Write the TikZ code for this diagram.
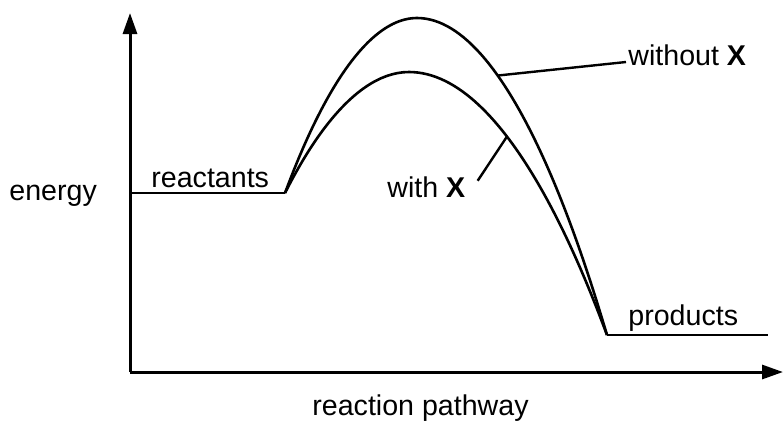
\documentclass[tikz,border=0pt]{standalone}
\usepackage{fontspec}
\setmainfont{Liberation Sans}
\usetikzlibrary{arrows.meta,positioning}

\begin{document}
\begin{tikzpicture}[x=0.5pt,y=-0.5pt,
  axis/.style={line width=1.5pt,-{Triangle[length=10.5pt,width=7pt]}},
  curve/.style={line width=1.3pt,line join=round},
  lead/.style={line width=1.2pt},
  lbl/.style={font=\fontsize{14.3}{16}\selectfont,inner sep=1pt}]
\useasboundingbox (0,0) rectangle (783,420);

% axes
\coordinate (orig) at (130,372);
\coordinate (ytop) at (130,13);
\coordinate (xend) at (783,372);
\draw[axis] (orig) -- (ytop);
\draw[axis] (orig) -- (xend);

% energy levels
\coordinate (rs) at (130,193);
\coordinate (re) at (285,193);
\coordinate (ps) at (607,335);
\coordinate (pe) at (768,335);
\draw[curve] (rs) -- (re);
\draw[curve] (ps) -- (pe);

% the two pathways
\draw[curve] (re) parabola bend (417,18) (ps);
\draw[curve] (re) parabola bend (409,72) (ps);

% labels
\node[lbl,anchor=base west] (en) at (7,200) {energy};
\node[lbl,anchor=base west] (rl) at (149,187) {reactants};
\node[lbl,anchor=base west] (pl) at (626,325) {products};
\node[lbl,anchor=base west] (wox) at (626,65) {without \textbf{X}};
\node[lbl,anchor=base west] (wx) at (385,197) {with \textbf{X}};
\node[lbl,anchor=base west] (rp) at (310,415) {reaction pathway};

% leader lines
\coordinate (woxc) at (498,75.5);
\coordinate (wxc) at (507,136.5);
\draw[lead] (woxc) -- ([yshift=1.5pt]wox.base west);
\draw[lead] ([xshift=5pt,yshift=3pt]wx.east) -- (wxc);
\end{tikzpicture}
\end{document}
